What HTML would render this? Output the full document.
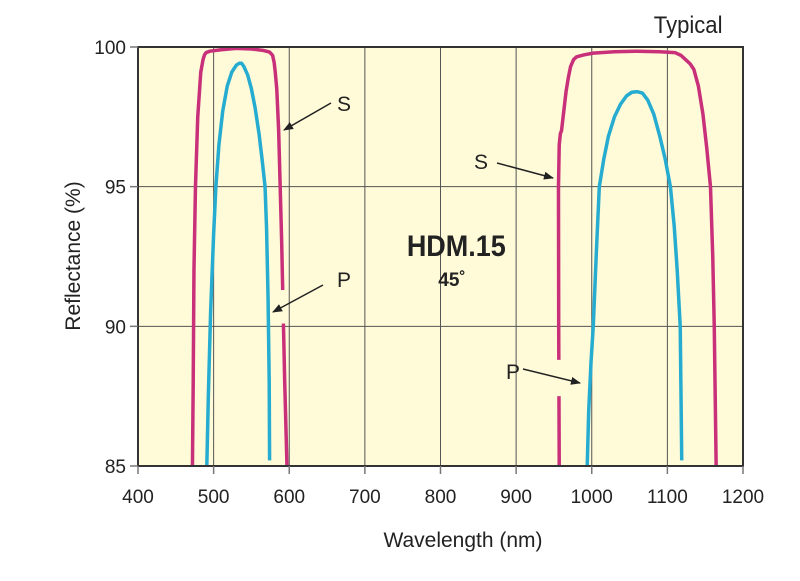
<!DOCTYPE html>
<html><head><meta charset="utf-8"><style>
body{margin:0;background:#fff;}
svg text{font-family:"Liberation Sans",Arial,sans-serif;fill:#222;}
</style></head><body>
<svg id="chart" width="800" height="576" viewBox="0 0 800 576" xmlns="http://www.w3.org/2000/svg">
<defs><marker id="ah" markerWidth="10" markerHeight="8" refX="9" refY="4" orient="auto" markerUnits="userSpaceOnUse"><path d="M0,0 L10,4 L0,8 Z" fill="#222"/></marker></defs>
<rect x="138" y="47" width="605" height="419" fill="#fffad8"/>
<g id="grid"></g>
<g id="series"></g>
<rect x="138" y="47" width="605" height="419" fill="none" stroke="#333" stroke-width="2"/>
<g id="axes"></g>
<text x="690" y="33" font-size="24" text-anchor="middle" transform="scale(0.92,1) translate(58,0)">Typical</text>
<text x="463" y="547" font-size="21" text-anchor="middle">Wavelength (nm)</text>
<text x="0" y="0" font-size="21" text-anchor="middle" transform="translate(80,256) rotate(-90)">Reflectance (%)</text>
<text x="457" y="256" font-size="30" font-weight="bold" text-anchor="middle" transform="translate(45,0) scale(0.9,1)">HDM.15</text>
<text x="452" y="286" font-size="19" font-weight="bold" text-anchor="middle">45˚</text>
<g>
<text x="337" y="111" font-size="21">S</text>
<line x1="331" y1="103" x2="284" y2="130" stroke="#222" stroke-width="1.5" marker-end="url(#ah)"/>
<text x="337" y="287" font-size="21">P</text>
<line x1="323" y1="285" x2="273" y2="312" stroke="#222" stroke-width="1.5" marker-end="url(#ah)"/>
<text x="474" y="169" font-size="21">S</text>
<line x1="497" y1="163" x2="553" y2="178" stroke="#222" stroke-width="1.5" marker-end="url(#ah)"/>
<text x="506" y="379" font-size="21">P</text>
<line x1="523" y1="369" x2="580" y2="383" stroke="#222" stroke-width="1.5" marker-end="url(#ah)"/>
</g>
</svg>
<script>
const xTicks=[400,500,600,700,800,900,1000,1100,1200];
const yTicks=[85,90,95,100];
const s1Wl=[472,473,474,476,479,483,486,488,490,495,510,530,550,565,574,578,580,581.5,583.5,586,588,590,591.4,594,597];
const s1R=[85,88,92,95,97.5,99.1,99.55,99.72,99.8,99.85,99.9,99.95,99.93,99.88,99.82,99.7,99.45,99.1,98.5,97,95,93,91.2,88,85];
const p1Wl=[491,493,496,500,503,507,512,518,524,530,534,537,540,545,550,555,560,564,568,570,572,573.5,574];
const p1R=[85,87.5,90.5,93.3,95,96.5,97.7,98.6,99.1,99.35,99.42,99.42,99.3,99,98.5,97.8,96.9,96,95,93.5,91,88,85.2];
const s2Wl=[957,956.3,956,957,958.5,960,963,966,969,972,976,980,990,1002,1030,1060,1090,1110,1118,1124,1130,1135,1141,1147,1152,1157,1160,1162,1164.5];
const s2R=[85,90,95,96.5,96.9,97,97.7,98.4,98.9,99.3,99.55,99.65,99.72,99.78,99.83,99.85,99.83,99.8,99.7,99.55,99.4,99.2,98.6,97.6,96.4,95,92.5,90,85];
const p2Wl=[994,996,999,1002,1006,1010,1016,1022,1030,1038,1046,1053,1060,1067,1074,1082,1090,1097,1104,1109,1113,1117,1119];
const p2R=[85,87,88.7,90,92.6,95,96,96.8,97.5,97.95,98.25,98.38,98.4,98.35,98.1,97.6,96.8,96,95,93.6,92,90,85.2];
const gaps=[{wl:591.2,r0:91.3,r1:90.1},{wl:956.6,r0:88.8,r1:87.5}];
const X=w=>138+(w-400)*605/800, Y=r=>47+(100-r)*419/15;
const NS='http://www.w3.org/2000/svg';
function mk(t,a,p){const e=document.createElementNS(NS,t);for(const k in a)e.setAttribute(k,a[k]);p.appendChild(e);return e;}
const grid=document.getElementById('grid'),axes=document.getElementById('axes'),ser=document.getElementById('series');
xTicks.forEach(t=>{
 if(t>400&&t<1200){const l=mk('line',{x1:X(t),x2:X(t),y1:47,y2:466,stroke:'#555','stroke-width':1},grid);
 
 }
 const k=mk('line',{x1:X(t),x2:X(t),y1:466,y2:474,stroke:'#777','stroke-width':1.5},axes);
 
 
 const tx=mk('text',{x:X(t),y:503,'font-size':19,'text-anchor':'middle'},axes);tx.textContent=t;
 
 
});
yTicks.forEach(t=>{
 if(t>85&&t<100){const l=mk('line',{x1:138,x2:743,y1:Y(t),y2:Y(t),stroke:'#555','stroke-width':1},grid);
 
 }
 const k=mk('line',{x1:130,x2:138,y1:Y(t),y2:Y(t),stroke:'#777','stroke-width':1.5},axes);
 
 
 const tx=mk('text',{x:126,y:Y(t)+7,'font-size':19,'text-anchor':'end'},axes);tx.textContent=t;
 
 
});
function path(ws,rs){return 'M'+ws.map((w,i)=>X(w).toFixed(2)+','+Y(rs[i]).toFixed(2)).join(' L');}
[[s1Wl,s1R,'#c8307a','s-curve-band1'],[p1Wl,p1R,'#25acd0','p-curve-band1'],[s2Wl,s2R,'#c8307a','s-curve-band2'],[p2Wl,p2R,'#25acd0','p-curve-band2']].forEach(s=>{
 const e=mk('path',{d:path(s[0],s[1]),fill:'none',stroke:s[2],'stroke-width':3.5,'stroke-linejoin':'round'},ser);
 
 
});
gaps.forEach(g=>{const e=mk('rect',{x:X(g.wl)-4,y:Y(g.r0),width:8,height:Y(g.r1)-Y(g.r0),fill:'#fffad8'},ser);
 
 });
</script>
</body></html>
